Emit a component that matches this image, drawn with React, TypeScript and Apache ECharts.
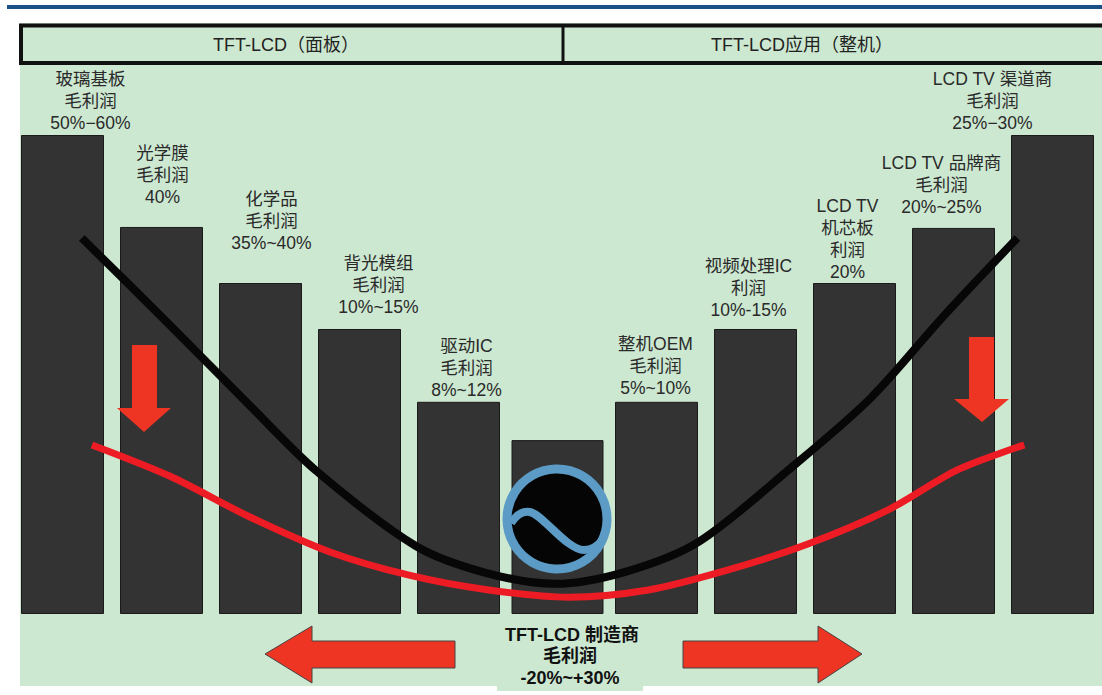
import React, { useEffect, useRef } from "react";
import * as echarts from "echarts";

const categories = ["玻璃基板", "光学膜", "化学品", "背光模组", "驱动IC", "TFT-LCD 制造商", "整机OEM", "视频处理IC", "LCD TV 机芯板", "LCD TV 品牌商", "LCD TV 渠道商"];
const barHeights = [100, 80.8, 69.1, 59.5, 44.3, 36.3, 44.3, 59.5, 69.1, 80.6, 100];
const barLabels = [
  "玻璃基板\n毛利润\n50%−60%",
  "光学膜\n毛利润\n40%",
  "化学品\n毛利润\n35%~40%",
  "背光模组\n毛利润\n10%~15%",
  "驱动IC\n毛利润\n8%~12%",
  "",
  "整机OEM\n毛利润\n5%~10%",
  "视频处理IC\n利润\n10%-15%",
  "LCD TV\n机芯板\n利润\n20%",
  "LCD TV 品牌商\n毛利润\n20%~25%",
  "LCD TV 渠道商\n毛利润\n25%−30%",
];
const labelOffsets = [[28, -1], [1, -19], [11, -29], [19, -11], [8, -1], [0, 0], [-1, -3], [-7, -8], [-7, 0], [-12, -10], [-60, -1]];
const headerLeft = "TFT-LCD（面板）";
const headerRight = "TFT-LCD应用（整机）";
const bottomLines = ["TFT-LCD 制造商", "毛利润", "-20%~+30%"];

// curve points: [category position, height in bar units]
const blackCurve = [[0.195, 78.5], [1.052, 61.0], [1.888, 43.6], [2.562, 29.9], [3.569, 14.2], [4.275, 8.6], [4.98, 6.3], [5.685, 8.8], [6.421, 15.0], [7.358, 30.5], [8.164, 45.1], [8.909, 62.4], [9.645, 78.5]];
const redCurve = [[0.297, 35.3], [1.082, 28.8], [1.888, 20.3], [2.694, 13.0], [3.5, 8.1], [4.306, 5.0], [5.112, 3.5], [5.917, 5.0], [6.723, 9.2], [7.529, 14.6], [8.335, 21.7], [9.04, 30.1], [9.715, 35.3]];

const FONT = "'Liberation Sans', 'Noto Sans CJK SC', sans-serif";
const GREEN = "#cde8d1";
const ARROW = "#ee3524";

let registered = false;
function registerWave() {
  if (registered) return;
  registered = true;
  echarts.graphic.registerShape(
    "wave",
    echarts.graphic.extendPath("M -46 4 C -40 -5 -33 -8 -27 -7 C -15 -5 10 31 27 31 C 35 31 41 27 46 20", {})
  );
}

export default function App() {
  const ref = useRef<HTMLDivElement>(null);
  useEffect(() => {
    if (!ref.current) return;
    registerWave();
    const chart = echarts.init(ref.current, null, { renderer: "svg" });
    const mainData = barHeights.map((v, i) => (i === 5 ? null : {
      value: v,
      label: { formatter: barLabels[i], offset: labelOffsets[i] },
    }));
    const midData = barHeights.map((v, i) => (i === 5 ? v : null));
    const barStyle = { color: "#333333", borderColor: "#1a1a1a", borderWidth: 1 };
    chart.setOption({
      animation: false,
      grid: { left: 13, top: 135, width: 1092, height: 479, containLabel: false },
      xAxis: [
        { type: "category", data: categories, show: false },
        { type: "value", min: -0.5, max: 10.5, show: false },
        { type: "category", data: categories, show: false },
      ],
      yAxis: { type: "value", min: 0, max: 100, show: false },
      series: [
        {
          type: "bar",
          xAxisIndex: 0,
          data: mainData,
          barWidth: 83,
          z: 2,
          itemStyle: barStyle,
          label: {
            show: true,
            position: "top",
            distance: 0,
            color: "#2a2a2a",
            fontSize: 17.5,
            lineHeight: 22,
            fontFamily: FONT,
            align: "center",
          },
        },
        {
          type: "bar",
          xAxisIndex: 2,
          data: midData,
          barWidth: 92,
          z: 2,
          itemStyle: barStyle,
        },
        {
          type: "line",
          xAxisIndex: 1,
          data: blackCurve,
          smooth: 0.3,
          symbol: "none",
          z: 4,
          lineStyle: { color: "#070707", width: 8, cap: "butt" },
        },
        {
          type: "line",
          xAxisIndex: 1,
          data: redCurve,
          smooth: 0.3,
          symbol: "none",
          z: 4,
          lineStyle: { color: "#ed1c24", width: 7, cap: "butt" },
        },
      ],
      graphic: [
        { type: "rect", z: -10, shape: { x: 7, y: 5, width: 1100, height: 4 }, style: { fill: "#1d4f87" } },
        { type: "rect", z: -10, shape: { x: 20, y: 23, width: 1090, height: 663 }, style: { fill: GREEN } },
        { type: "rect", z: -9, shape: { x: 21, y: 25.5, width: 1100, height: 37.5 }, style: { fill: GREEN, stroke: "#111111", lineWidth: 4 } },
        { type: "line", z: -9, shape: { x1: 563, y1: 25, x2: 563, y2: 63 }, style: { stroke: "#111111", lineWidth: 3 } },
        { type: "text", z: -8, x: 286, y: 45, style: { text: headerLeft, fill: "#222222", font: `18px ${FONT}`, textAlign: "center", textVerticalAlign: "middle" } },
        { type: "text", z: -8, x: 802, y: 45, style: { text: headerRight, fill: "#222222", font: `18px ${FONT}`, textAlign: "center", textVerticalAlign: "middle" } },
        { type: "polygon", z: 20, shape: { points: [[132, 345], [157, 345], [157, 408], [171, 408], [144, 432], [117, 408], [132, 408]] }, style: { fill: ARROW } },
        { type: "polygon", z: 20, shape: { points: [[969, 337], [994, 337], [994, 399], [1009, 399], [982, 422], [954, 399], [969, 399]] }, style: { fill: ARROW } },
        { type: "polygon", z: 20, shape: { points: [[455, 641], [312, 641], [312, 626], [265, 654], [312, 683], [312, 668], [455, 668]] }, style: { fill: ARROW, stroke: "#444444", lineWidth: 1 } },
        { type: "polygon", z: 20, shape: { points: [[683, 641], [818, 641], [818, 626], [862, 654], [818, 683], [818, 668], [683, 668]] }, style: { fill: ARROW, stroke: "#444444", lineWidth: 1 } },
        { type: "rect", z: 19, shape: { x: 497, y: 622, width: 146, height: 69 }, style: { fill: GREEN } },
        { type: "text", z: 21, x: 572, y: 635, style: { text: bottomLines[0], fill: "#111111", font: `bold 18px ${FONT}`, textAlign: "center", textVerticalAlign: "middle" } },
        { type: "text", z: 21, x: 570, y: 656, style: { text: bottomLines[1], fill: "#111111", font: `bold 18px ${FONT}`, textAlign: "center", textVerticalAlign: "middle" } },
        { type: "text", z: 21, x: 570, y: 678, style: { text: bottomLines[2], fill: "#111111", font: `bold 18px ${FONT}`, textAlign: "center", textVerticalAlign: "middle" } },
        { type: "circle", z: 30, shape: { cx: 557, cy: 519, r: 50 }, style: { fill: "#050505", stroke: "#5b9bc5", lineWidth: 9 } },
        { type: "wave", z: 31, x: 557, y: 519, scaleX: 1, scaleY: 1, style: { fill: "none", stroke: "#5b9bc5", lineWidth: 8 } },
      ],
    });
    return () => chart.dispose();
  }, []);
  return <div ref={ref} style={{ position: "absolute", left: 0, top: 0, width: 1102, height: 695 }} />;
}
